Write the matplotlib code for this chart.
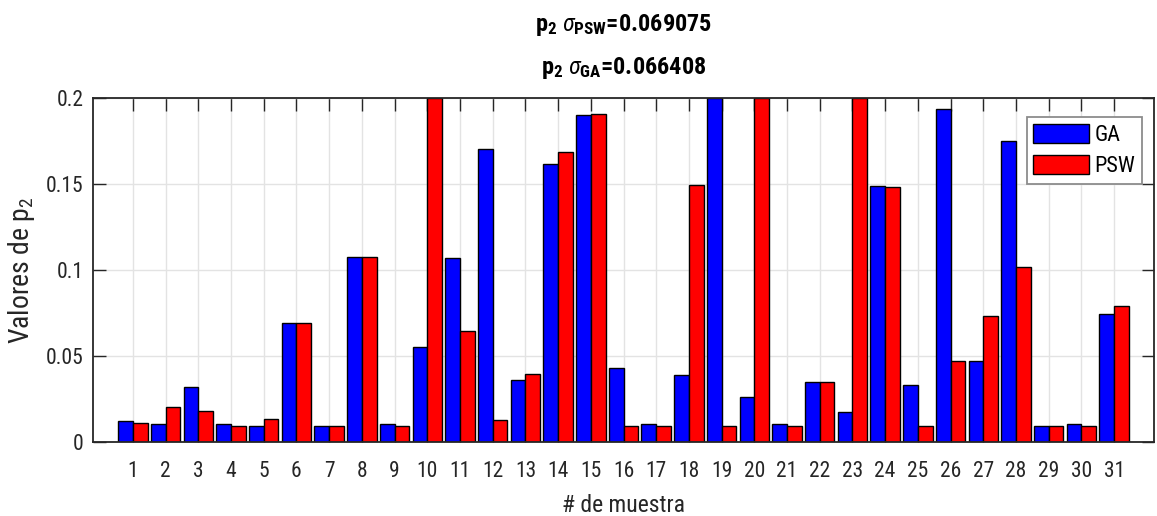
import numpy as np
import matplotlib
matplotlib.use("Agg")
import matplotlib.pyplot as plt
import matplotlib.font_manager as fm

# p2 por muestra, GA vs PSW
muestras = list(range(1, 32))
ga = [0.0124, 0.0103, 0.0318, 0.0103, 0.0095, 0.0692, 0.0095, 0.1074, 0.0103, 0.0552,
      0.1068, 0.1705, 0.0359, 0.1618, 0.1899, 0.0430, 0.0103, 0.0391, 0.2000, 0.0264,
      0.0103, 0.0351, 0.0176, 0.1490, 0.0331, 0.1934, 0.0471, 0.1752, 0.0095, 0.0103,
      0.0744]
psw = [0.0110, 0.0203, 0.0182, 0.0095, 0.0136, 0.0692, 0.0095, 0.1074, 0.0095, 0.2000,
       0.0645, 0.0128, 0.0397, 0.1686, 0.1907, 0.0095, 0.0095, 0.1496, 0.0095, 0.2000,
       0.0095, 0.0351, 0.2000, 0.1484, 0.0095, 0.0471, 0.0733, 0.1019, 0.0095, 0.0095,
       0.0793]
yticks = [0, 0.05, 0.1, 0.15, 0.2]
ytick_labels = ["0", "0.05", "0.1", "0.15", "0.2"]
sigma_psw = "0.069075"
sigma_ga = "0.066408"

# fuente condensada si hay alguna, si no Liberation Sans
names = {f.name for f in fm.fontManager.ttflist}
FONT = "Liberation Sans"
for cand in ["Liberation Sans Narrow", "Roboto Condensed", "Arimo"]:
    if cand in names:
        FONT = cand
        break
narrow = FONT in ("Liberation Sans Narrow", "Roboto Condensed")
FS = 15.5 if narrow else 13.5
plt.rcParams["font.family"] = [FONT, "DejaVu Sans"]
plt.rcParams["mathtext.fontset"] = "custom"
plt.rcParams["mathtext.rm"] = FONT
plt.rcParams["mathtext.it"] = FONT + ":italic"
plt.rcParams["mathtext.bf"] = FONT + ":bold"

W, H = 1157, 516
fig = plt.figure(figsize=(W / 100, H / 100), dpi=100)
ax = fig.add_axes([93 / W, 1 - 442 / H, (1154 - 93) / W, (442 - 98) / H])

x = np.array(muestras)
bw = 0.45
ax.bar(x - bw / 2, ga, width=bw, color="#0000ff", edgecolor="black", linewidth=1.0,
       label="GA", zorder=3)
ax.bar(x + bw / 2, psw, width=bw, color="#ff0000", edgecolor="black", linewidth=1.0,
       label="PSW", zorder=3)

ax.set_xlim(-0.22, 32.22)
ax.set_ylim(0, 0.2)
ax.set_xticks(muestras)
ax.set_xticklabels([str(m) for m in muestras])
ax.set_yticks(yticks)
ax.set_yticklabels(ytick_labels)

ax.grid(True, color="#e3e3e3", linewidth=1.0, zorder=0)
ax.set_axisbelow(True)
for s in ax.spines.values():
    s.set_color("#262626")
    s.set_linewidth(1.3)
    s.set_zorder(4)
ax.tick_params(direction="in", length=9, width=1.0, color="#262626",
               top=True, right=True, labelsize=FS, labelcolor="#262626")
ax.tick_params(axis="x", pad=14)
ax.tick_params(axis="y", pad=7)

ax.set_xlabel("# de muestra", fontsize=FS + 1.5, color="#262626", labelpad=8)
ax.set_ylabel(r"Valores de p$_2$", fontsize=FS + 4.5, color="#262626", labelpad=6)

fig.text(624 / W, 1 - 25 / H,
         r"p$_{\mathbf{2}}$ $\sigma_{\mathbf{PSW}}$=" + sigma_psw,
         ha="center", va="center", fontsize=FS + 2, fontweight="bold")
fig.text(624 / W, 1 - 68 / H,
         r"p$_{\mathbf{2}}$ $\sigma_{\mathbf{GA}}$=" + sigma_ga,
         ha="center", va="center", fontsize=FS + 2, fontweight="bold")

leg = ax.legend(loc="upper right", bbox_to_anchor=(1142 / W, 1 - 117 / H),
                bbox_transform=fig.transFigure, borderaxespad=0, fontsize=FS + 0.5,
                fancybox=False, framealpha=1, edgecolor="#8c8c8c",
                handlelength=2.5, handleheight=0.95, handletextpad=0.25,
                labelspacing=0.42, borderpad=0.3)
leg.get_frame().set_linewidth(1.3)
leg.set_zorder(5)

fig.savefig("out.png", dpi=100)
